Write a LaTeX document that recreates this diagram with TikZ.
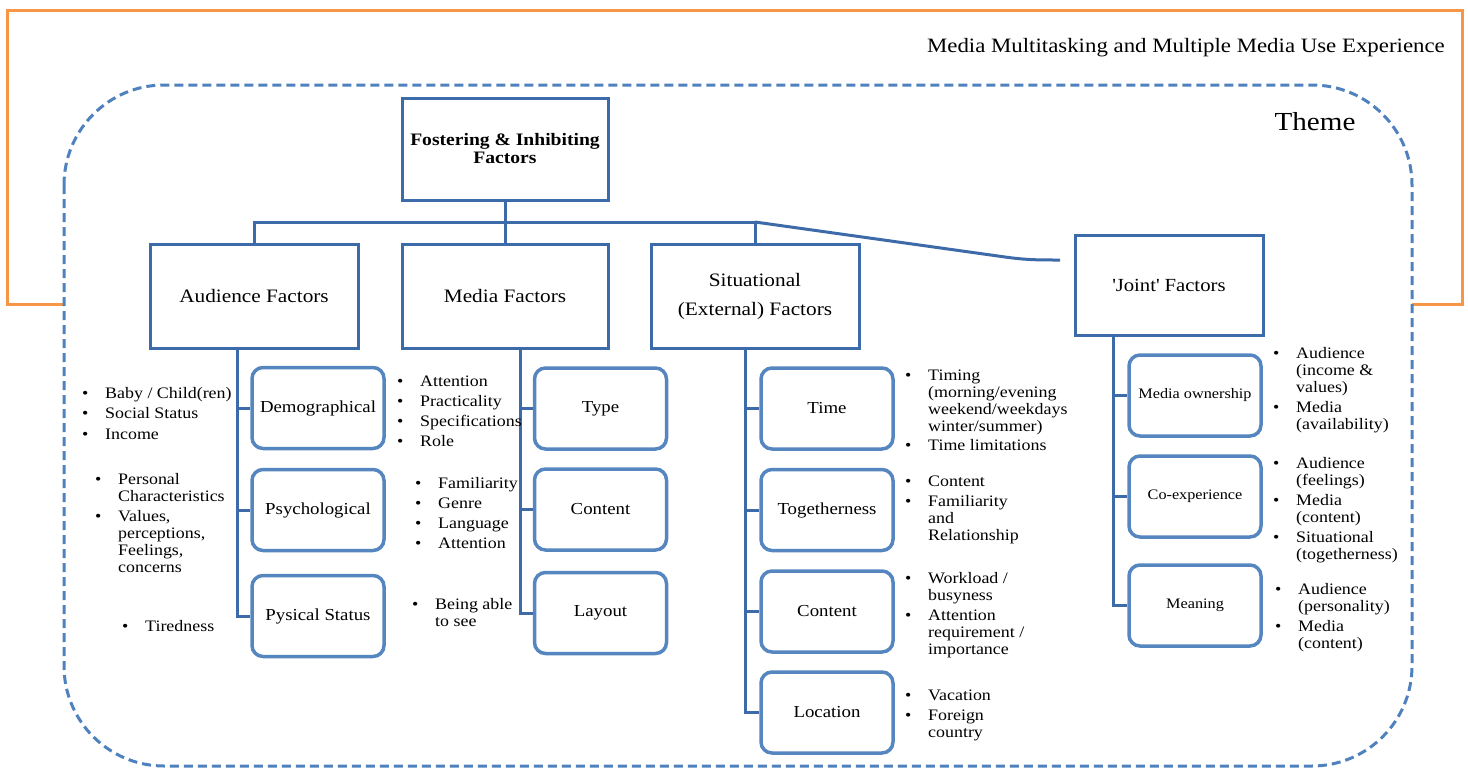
\documentclass[tikz,border=0pt]{standalone}
\usepackage{fontspec}
\setmainfont{Liberation Serif}[FakeStretch=1.12]
\definecolor{frameorange}{HTML}{F79646}
\definecolor{themeblue}{HTML}{4F81BD}
\definecolor{boxblue}{HTML}{3D6AA8}
\definecolor{subblue}{HTML}{5586C0}
\newcommand{\fsz}[2]{\fontsize{#1}{#2}\selectfont}
% bullet item and continuation line of a bullet list
\newcommand{\bi}{\makebox[23pt][l]{\textbullet}}
\newcommand{\bc}{\hspace*{23pt}}
\tikzset{
  frameline/.style={draw=frameorange, line width=3pt},
  themeline/.style={draw=themeblue, line width=3pt, dash pattern=on 9pt off 5pt, rounded corners=100pt},
  factorbox/.style={draw=boxblue, line width=3pt, fill=white, align=center, inner sep=2pt},
  subbox/.style={draw=subblue, line width=3.5pt, rounded corners=11pt, fill=white, align=center,
                 minimum width=132pt, minimum height=81pt, inner sep=2pt, font=\fsz{16.8}{18}},
  jsubbox/.style={subbox, font=\fsz{14.5}{16}},
  link/.style={draw=boxblue, line width=3pt},
  blist/.style={anchor=north west, inner sep=0pt, align=left, font=\fsz{16}{17}},
}
\begin{document}
\begin{tikzpicture}[x=1pt, y=-1pt]
\useasboundingbox (0,0) rectangle (1468,769);

% outer frame and theme area
\draw[frameline] (64,304) -- (7,304) -- (7,10) -- (1462,10) -- (1462,304) -- (1412,304);
\draw[themeline] (64,85) rectangle (1412,766);
\node[anchor=east, inner sep=0pt, font=\fsz{20.4}{22}] (title) at (1445,48)
  {Media Multitasking and Multiple Media Use Experience};
\node[inner sep=0pt, font=\fsz{26}{28}] (theme) at (1315,122) {Theme};

% main factor boxes
\node[factorbox, minimum width=206pt, minimum height=102pt, font=\bfseries\fsz{17.5}{18}] (top) at (505,149)
  {Fostering \& Inhibiting\\Factors};
\node[factorbox, minimum width=208pt, minimum height=104pt, font=\fsz{19}{20}] (aud) at (254,296) {Audience Factors};
\node[factorbox, minimum width=206pt, minimum height=104pt, font=\fsz{19}{20}] (med) at (505,296) {Media Factors};
\node[factorbox, minimum width=208pt, minimum height=104pt, font=\fsz{19}{29}] (sit) at (755,296) {Situational\\(External) Factors};
\node[factorbox, minimum width=188pt, minimum height=100pt, font=\fsz{18.5}{20}] (joint) at (1169,285)
  {\textquotesingle Joint\textquotesingle\ Factors};

% tree bus
\coordinate (bus) at (0,222);
\coordinate (jbend) at (1005,257);
\coordinate (jend) at (1060,260);
\draw[link] (top.south) -- (top.south |- bus);
\draw[link] (aud.north) -- (aud.north |- bus) -- (sit.north |- bus) -- (sit.north);
\draw[link] (med.north) -- (med.north |- bus);
\draw[link] (sit.north |- bus) -- (jbend) to[out=-8, in=180] (jend);

% sub factor boxes
\node[subbox] (demo) at (318,408) {Demographical};
\node[subbox] (psych) at (318,510) {Psychological};
\node[subbox] (phys) at (318,616) {Pysical Status};

\node[subbox] (type) at (600.5,408.5) {Type};
\node[subbox] (mcont) at (600.5,509.5) {Content};
\node[subbox] (layout) at (600.5,613) {Layout};

\node[subbox] (time) at (827,408.5) {Time};
\node[subbox] (tog) at (827,510) {Togetherness};
\node[subbox] (scont) at (827,611.5) {Content};
\node[subbox] (loc) at (827,712.5) {Location};

\node[jsubbox] (own) at (1195,395.5) {Media ownership};
\node[jsubbox] (coexp) at (1195,496.5) {Co-experience};
\node[jsubbox] (mean) at (1195,605.5) {Meaning};

% spines from each factor to its sub factors
\coordinate (aspine) at (237,0);
\coordinate (mspine) at (520,0);
\coordinate (sspine) at (745,0);
\coordinate (jspine) at (1113,0);

\draw[link] (aud.south -| aspine) |- (phys.west);
\draw[link] (aspine |- demo.west) -- (demo.west);
\draw[link] (aspine |- psych.west) -- (psych.west);

\draw[link] (med.south -| mspine) |- (layout.west);
\draw[link] (mspine |- type.west) -- (type.west);
\draw[link] (mspine |- mcont.west) -- (mcont.west);

\draw[link] (sit.south -| sspine) |- (loc.west);
\draw[link] (sspine |- time.west) -- (time.west);
\draw[link] (sspine |- tog.west) -- (tog.west);
\draw[link] (sspine |- scont.west) -- (scont.west);

\draw[link] (joint.south -| jspine) |- (mean.west);
\draw[link] (jspine |- own.west) -- (own.west);
\draw[link] (jspine |- coexp.west) -- (coexp.west);

% bullet lists: audience
\node[blist] (al1) at (82,387) {\bi Baby / Child(ren)\\[3.5pt]\bi Social Status\\[3.5pt]\bi Income};
\node[blist] (al2) at (95,473) {\bi Personal\\\bc Characteristics\\[3.5pt]\bi Values,\\\bc perceptions,\\\bc Feelings,\\\bc concerns};
\node[blist] (al3) at (122,620) {\bi Tiredness};

% bullet lists: media
\node[blist] (ml1) at (397,376) {\bi Attention\\[3pt]\bi Practicality\\[3pt]\bi Specifications\\[3pt]\bi Role};
\node[blist] (ml2) at (415,477) {\bi Familiarity\\[3pt]\bi Genre\\[3pt]\bi Language\\[3pt]\bi Attention};
\node[blist] (ml3) at (412,598) {\bi Being able\\\bc to see};

% bullet lists: situational
\node[blist] (sl1) at (905,370) {\bi Timing\\\bc (morning/evening\\\bc weekend/weekdays\\\bc winter/summer)\\[2pt]\bi Time limitations};
\node[blist] (sl2) at (905,476) {\bi Content\\[3pt]\bi Familiarity\\\bc and\\\bc Relationship};
\node[blist] (sl3) at (905,572) {\bi Workload /\\\bc busyness\\[3pt]\bi Attention\\\bc requirement /\\\bc importance};
\node[blist] (sl4) at (905,690) {\bi Vacation\\[3pt]\bi Foreign\\\bc country};

% bullet lists: joint
\node[blist] (jl1) at (1273,347) {\bi Audience\\\bc (income \&\\\bc values)\\[3pt]\bi Media\\\bc (availability)};
\node[blist] (jl2) at (1273,457) {\bi Audience\\\bc (feelings)\\[3pt]\bi Media\\\bc (content)\\[3pt]\bi Situational\\\bc (togetherness)};
\node[blist] (jl3) at (1275,583) {\bi Audience\\\bc (personality)\\[3pt]\bi Media\\\bc (content)};
\end{tikzpicture}
\end{document}
